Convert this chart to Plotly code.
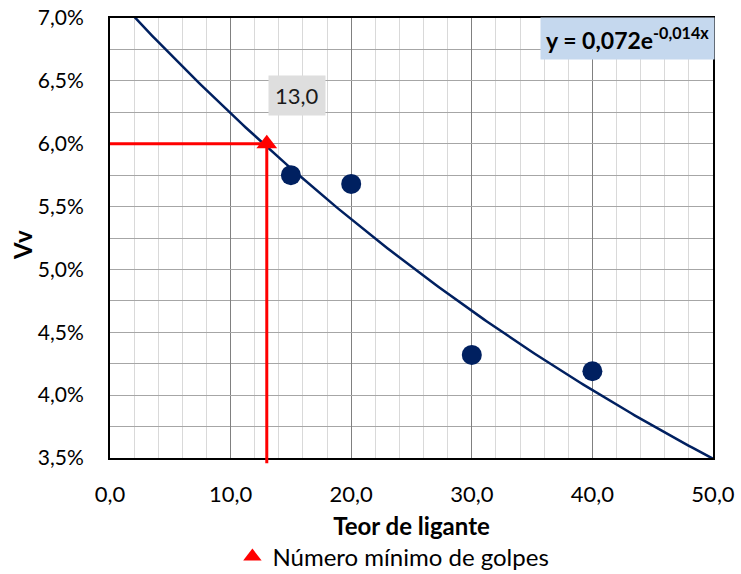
import numpy as np
import plotly.graph_objects as go

# Data
teor = [15.0, 20.0, 30.0, 40.0]
vv = [0.0575, 0.0568, 0.0432, 0.0419]

golpes_x = [13.0]
golpes_y = [0.060]
golpes_label = "13,0"
equation_text = "y = 0,072e<sup>-0,014x</sup>"

x_ticks = [0, 10, 20, 30, 40, 50]
y_ticks = [0.035, 0.040, 0.045, 0.050, 0.055, 0.060, 0.065, 0.070]

# Exponential trendline (least squares on log, like a spreadsheet trendline)
b, ln_a = np.polyfit(teor, np.log(vv), 1)
trend_x = np.linspace(0, 50, 201)
trend_y = np.exp(ln_a) * np.exp(b * trend_x)

NAVY = "#002060"
RED = "#ff0000"
FONT = "Lato, 'Open Sans', sans-serif"

fig = go.Figure()

fig.add_trace(go.Scatter(x=trend_x, y=trend_y, mode="lines",
                         line=dict(color=NAVY, width=2.5),
                         showlegend=False, hoverinfo="skip"))

# red guide lines
fig.add_trace(go.Scatter(x=[0, golpes_x[0]], y=[golpes_y[0], golpes_y[0]], mode="lines",
                         line=dict(color=RED, width=3), showlegend=False, hoverinfo="skip"))
fig.add_shape(type="line", xref="x", yref="paper", x0=golpes_x[0], x1=golpes_x[0],
              y0=-0.012, y1=(golpes_y[0] - 0.035) / (0.070 - 0.035),
              line=dict(color=RED, width=3), layer="above")

fig.add_trace(go.Scatter(x=teor, y=vv, mode="markers",
                         marker=dict(color=NAVY, size=20),
                         showlegend=False))

fig.add_trace(go.Scatter(x=golpes_x, y=golpes_y, mode="markers",
                         marker=dict(color=RED, size=18, symbol="triangle-up"),
                         name="Número mínimo de golpes"))

fig.add_annotation(x=golpes_x[0] + 2.5, y=golpes_y[0] + 0.0038, xref="x", yref="y",
                   text=golpes_label, showarrow=False,
                   font=dict(family=FONT, size=22, color="#1a1a1a"),
                   bgcolor="#dedede", borderpad=6)

fig.add_annotation(x=1.0, y=1.0, xref="paper", yref="paper", xanchor="right", yanchor="top",
                   xshift=2, yshift=1,
                   text="<b>" + equation_text + "</b>", showarrow=False,
                   font=dict(family=FONT, size=23, color="#000000"),
                   bgcolor="#c5d8ee", borderpad=5)

# y-axis title as rotated annotation
fig.add_annotation(x=-0.146, y=0.484, xref="paper", yref="paper",
                   xanchor="center", yanchor="middle", textangle=-90,
                   text="<b>Vv</b>", showarrow=False,
                   font=dict(family=FONT, size=24, color="#000000"))

fig.update_layout(
    width=741, height=574,
    margin=dict(l=110, r=28, t=18, b=116, autoexpand=False),
    paper_bgcolor="white", plot_bgcolor="white",
    separators=",.",
    font=dict(family=FONT, size=22, color="#000000"),
    showlegend=True,
    legend=dict(orientation="h", x=0.47, xanchor="center", y=-0.225, yanchor="middle",
                font=dict(family=FONT, size=24), itemwidth=30, tracegroupgap=0),
)

fig.update_xaxes(
    range=[0, 50], tickvals=x_ticks, tickformat=".1f",
    tickfont=dict(family=FONT, size=22),
    showgrid=True, gridcolor="#808080", gridwidth=1,
    minor=dict(dtick=2, showgrid=True, gridcolor="#d9d9d9", gridwidth=1),
    showline=True, linecolor="black", linewidth=2, mirror=True,
    ticks="", ticklabelstandoff=16, automargin=False,
    title=dict(text="<b>Teor de ligante</b>", font=dict(family=FONT, size=24), standoff=12),
    zeroline=False,
)
fig.update_yaxes(
    range=[0.035, 0.070], tickvals=y_ticks, tickformat=".1%",
    tickfont=dict(family=FONT, size=21),
    showgrid=True, gridcolor="#a6a6a6", gridwidth=1,
    minor=dict(dtick=0.0025, tick0=0.035, showgrid=True, gridcolor="#a6a6a6", gridwidth=1),
    showline=True, linecolor="black", linewidth=2, mirror=True,
    ticks="", ticklabelstandoff=20, automargin=False,
    zeroline=False,
)

fig.write_html("out.html")
